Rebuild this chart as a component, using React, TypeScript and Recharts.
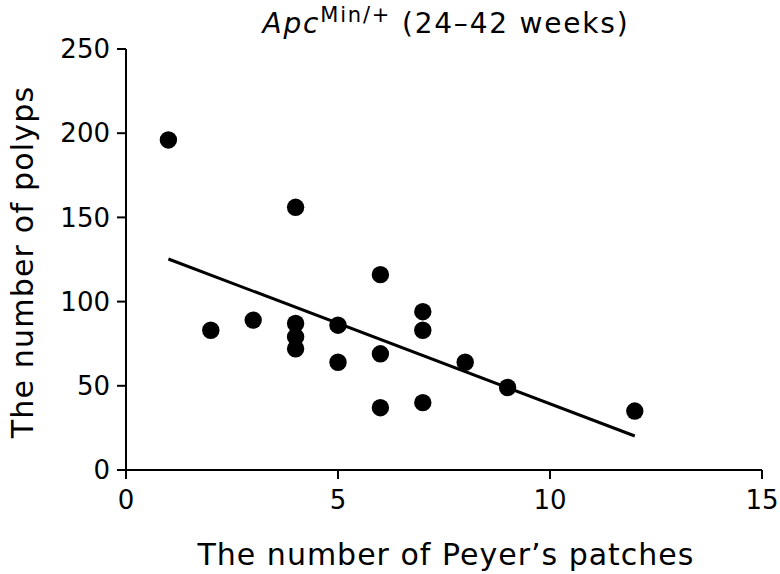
import { ScatterChart, Scatter, XAxis, YAxis, ReferenceLine } from 'recharts';

// Peyer's patches count (x) vs polyp count (y), one entry per mouse
const patches = [1, 2, 3, 4, 4, 4, 4, 5, 5, 6, 6, 6, 7, 7, 7, 8, 9, 12];
const polyps = [196, 83, 89, 156, 87, 79, 72, 86, 64, 116, 69, 37, 94, 83, 40, 64, 49, 35];

// regression line end points
const fitX = [1, 12];
const fitY = [125.3, 20.2];

const xTicks = [0, 5, 10, 15];
const yTicks = [0, 50, 100, 150, 200, 250];

const points = patches.map((x, i) => ({ x, y: polyps[i] }));

const FONT = '"DejaVu Sans", Verdana, sans-serif';

const Dot = (props: any) => <circle cx={props.cx} cy={props.cy} r={8.7} fill="#000" />;

export default function App() {
  return (
    <div style={{ position: 'absolute', left: 0, top: 0, width: 780, height: 574, background: '#fff' }}>
      <ScatterChart width={780} height={574} margin={{ top: 49, right: 18, bottom: 0, left: 0 }}>
        <text x={446} y={33} textAnchor="middle" fontFamily={FONT} fontSize={28} letterSpacing={1.8} fill="#000">
          <tspan fontStyle="italic">Apc</tspan>
          <tspan fontSize={21} dy={-11}>Min/+</tspan>
          <tspan dy={11}> (24–42 weeks)</tspan>
        </text>
        <text x={446} y={565} textAnchor="middle" fontFamily={FONT} fontSize={30} letterSpacing={1} fill="#000">
          The number of Peyer’s patches
        </text>
        <text
          x={0}
          y={0}
          transform="translate(33 262) rotate(-90)"
          textAnchor="middle"
          fontFamily={FONT}
          fontSize={30}
          letterSpacing={1.2}
          fill="#000"
        >
          The number of polyps
        </text>
        <XAxis
          type="number"
          dataKey="x"
          domain={[0, 15]}
          ticks={xTicks}
          tick={{ fill: '#000', fontSize: 26, fontFamily: FONT, dy: 10 }}
          axisLine={{ stroke: '#000', strokeWidth: 2 }}
          tickLine={{ stroke: '#000', strokeWidth: 2 }}
          tickSize={9}
          height={104}
        />
        <YAxis
          type="number"
          dataKey="y"
          domain={[0, 250]}
          ticks={yTicks}
          tick={{ fill: '#000', fontSize: 26, fontFamily: FONT, dx: -5 }}
          axisLine={{ stroke: '#000', strokeWidth: 2 }}
          tickLine={{ stroke: '#000', strokeWidth: 2 }}
          tickSize={9}
          width={126}
        />
        <ReferenceLine
          segment={[{ x: fitX[0], y: fitY[0] }, { x: fitX[1], y: fitY[1] }]}
          stroke="#000"
          strokeWidth={3}
          ifOverflow="visible"
        />
        <Scatter data={points} shape={<Dot />} isAnimationActive={false} />
      </ScatterChart>
    </div>
  );
}
